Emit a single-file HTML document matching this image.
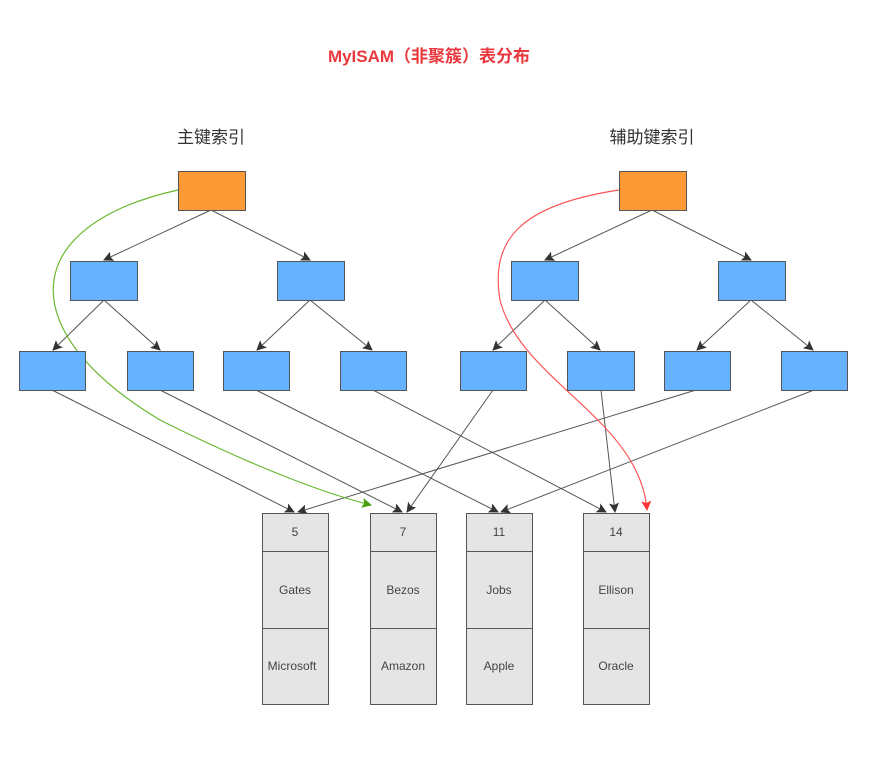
<!DOCTYPE html>
<html><head><meta charset="utf-8"><style>body{margin:0;background:#fff}svg{display:block}</style></head><body>
<svg width="869" height="775" xmlns="http://www.w3.org/2000/svg" font-family="Liberation Sans, Noto Sans CJK SC, sans-serif">
<defs>
<marker id="a" markerWidth="10" markerHeight="10" refX="9" refY="5" orient="auto" markerUnits="userSpaceOnUse"><path d="M0,0 L10,5 L0,10 L2,5 z" fill="#333"/></marker>
<marker id="g" markerWidth="10" markerHeight="10" refX="9" refY="5" orient="auto" markerUnits="userSpaceOnUse"><path d="M0,0 L10,5 L0,10 L2,5 z" fill="#4a9e10"/></marker>
<marker id="r" markerWidth="10" markerHeight="10" refX="9" refY="5" orient="auto" markerUnits="userSpaceOnUse"><path d="M0,0 L10,5 L0,10 L2,5 z" fill="#f33"/></marker>
</defs>
<text x="429" y="62" text-anchor="middle" font-size="17" font-weight="bold" fill="#e8383d">MyISAM（非聚簇）表分布</text>
<text x="211" y="143" text-anchor="middle" font-size="17" fill="#333">主键索引</text>
<text x="652" y="143" text-anchor="middle" font-size="17" fill="#333">辅助键索引</text>
<g stroke="#555" stroke-width="1" fill="none" marker-end="url(#a)">
<line x1="211" y1="210" x2="104" y2="260"/><line x1="211" y1="210" x2="310" y2="260"/>
<line x1="104" y1="300" x2="53" y2="350"/><line x1="104" y1="300" x2="160" y2="350"/>
<line x1="310" y1="300" x2="257" y2="350"/><line x1="310" y1="300" x2="372" y2="350"/>
<line x1="652" y1="210" x2="545" y2="260"/><line x1="652" y1="210" x2="751" y2="260"/>
<line x1="545" y1="300" x2="493" y2="350"/><line x1="545" y1="300" x2="600" y2="350"/>
<line x1="751" y1="300" x2="697" y2="350"/><line x1="751" y1="300" x2="813" y2="350"/>
<line x1="52" y1="390" x2="294" y2="512"/>
<line x1="160" y1="390" x2="402" y2="512"/>
<line x1="256" y1="390" x2="498" y2="512"/>
<line x1="373" y1="390" x2="606" y2="512"/>
<line x1="493" y1="390" x2="407" y2="512"/>
<line x1="601" y1="390" x2="615" y2="512"/>
<line x1="696" y1="390" x2="298" y2="512"/>
<line x1="814" y1="390" x2="501" y2="512"/>
</g>
<path d="M178,190 C20,225 10,330 160,420 C260,470 330,495 371,505" stroke="#6ab830" stroke-width="1.2" fill="none" marker-end="url(#g)"/>
<path d="M619,190 C520,205 490,240 500,300 C520,380 640,420 647,510" stroke="#f55" stroke-width="1.2" fill="none" marker-end="url(#r)"/>
<g stroke="#555" stroke-width="1">
<rect x="178.5" y="171.5" width="67" height="39" fill="#fe9a35"/>
<rect x="619.5" y="171.5" width="67" height="39" fill="#fe9a35"/>
<g fill="#66b2ff">
<rect x="70.5" y="261.5" width="67" height="39"/><rect x="277.5" y="261.5" width="67" height="39"/>
<rect x="511.5" y="261.5" width="67" height="39"/><rect x="718.5" y="261.5" width="67" height="39"/>
<rect x="19.5" y="351.5" width="66" height="39"/><rect x="127.5" y="351.5" width="66" height="39"/>
<rect x="223.5" y="351.5" width="66" height="39"/><rect x="340.5" y="351.5" width="66" height="39"/>
<rect x="460.5" y="351.5" width="66" height="39"/><rect x="567.5" y="351.5" width="67" height="39"/>
<rect x="664.5" y="351.5" width="66" height="39"/><rect x="781.5" y="351.5" width="66" height="39"/>
</g>
<g fill="#e5e5e5">
<rect x="262.5" y="513.5" width="66" height="191"/><rect x="370.5" y="513.5" width="66" height="191"/>
<rect x="466.5" y="513.5" width="66" height="191"/><rect x="583.5" y="513.5" width="66" height="191"/>
</g>
<path d="M262,551.5h66M262,628.5h66M370,551.5h66M370,628.5h66M466,551.5h66M466,628.5h66M583,551.5h66M583,628.5h66" fill="none"/>
</g>
<g font-size="12" fill="#444" text-anchor="middle">
<text x="295" y="536">5</text><text x="295" y="594">Gates</text><text x="292" y="670">Microsoft</text>
<text x="403" y="536">7</text><text x="403" y="594">Bezos</text><text x="403" y="670">Amazon</text>
<text x="499" y="536">11</text><text x="499" y="594">Jobs</text><text x="499" y="670">Apple</text>
<text x="616" y="536">14</text><text x="616" y="594">Ellison</text><text x="616" y="670">Oracle</text>
</g>
</svg>
</body></html>
